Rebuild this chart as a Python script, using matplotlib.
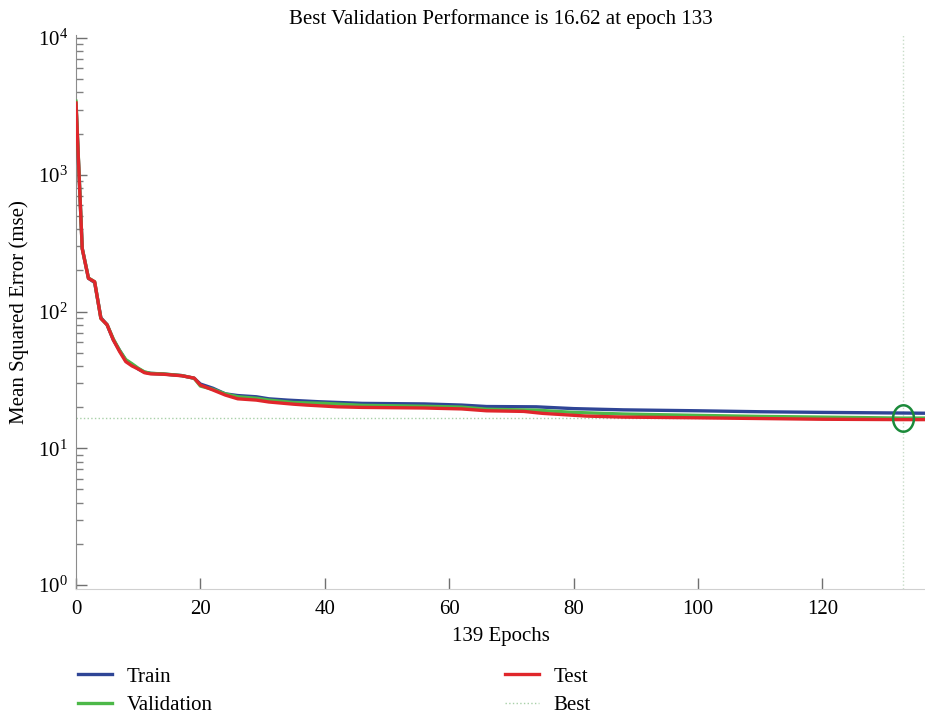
import numpy as np
import matplotlib
matplotlib.use("Agg")
import matplotlib.pyplot as plt
from matplotlib.path import Path

plt.rcParams['font.family'] = ['Liberation Serif', 'DejaVu Serif']
plt.rcParams['mathtext.fontset'] = 'custom'
plt.rcParams['mathtext.rm'] = 'Liberation Serif'

# values (epoch, mse)
train_ep = [0, 1, 2, 3, 4, 5, 6, 7, 8, 9, 10, 11, 12, 14, 17, 19, 20, 22, 24, 26, 29, 31, 34,
            39, 46, 56, 62, 66, 74, 80, 88, 100, 110, 120, 133, 139]
train_mse = [3300, 290, 175, 163, 90, 80, 62, 52, 44, 41, 38, 36, 35.3, 34.9, 34, 32.5, 29.5,
             27.5, 25, 24.3, 23.8, 23, 22.5, 21.9, 21.3, 21.1, 20.7, 20.2, 20.1, 19.5, 19.1,
             18.8, 18.5, 18.3, 18.1, 18.0]

val_ep = [0, 1, 2, 3, 4, 5, 6, 7, 8, 9, 10, 11, 12, 14, 17, 19, 20, 22, 24, 26, 29, 31, 35,
          40, 46, 56, 62, 66, 74, 80, 88, 100, 110, 120, 133, 139]
val_mse = [3450, 290, 176, 165, 89, 80, 63, 52, 44.5, 41.5, 38.5, 36.2, 35.3, 35, 34, 32.5,
           28.5, 27, 25, 23.8, 23.2, 22.5, 21.6, 21.3, 20.6, 20.3, 20.0, 19.3, 19.0, 18.3,
           17.8, 17.4, 17.1, 16.9, 16.62, 16.65]

test_ep = [0, 1, 2, 3, 4, 5, 6, 7, 8, 9, 10, 11, 12, 14, 17, 19, 20, 22, 24, 26, 29, 31, 35,
           37, 42, 46, 56, 62, 66, 72, 75, 82, 88, 100, 110, 120, 133, 139]
test_mse = [3350, 288, 175, 165, 89, 80, 62, 51, 43, 40, 38, 35.7, 35, 34.8, 33.9, 32.6, 29,
            26.7, 24.5, 23, 22.5, 21.8, 21, 20.7, 20.1, 19.9, 19.7, 19.4, 18.8, 18.6, 18.0,
            17.2, 16.9, 16.7, 16.5, 16.3, 16.2, 16.2]

best_epoch = 133
best_perf = 16.62
n_epochs = 139

fig = plt.figure(figsize=(9.25, 7.18), dpi=100)
ax = fig.add_axes([76 / 925, 1 - 589 / 718, 1 - 76 / 925, (589 - 35) / 718])

ax.plot(train_ep, train_mse, color='#2f4596', lw=2.4, label='Train', zorder=3)
ax.plot(val_ep, val_mse, color='#4cb848', lw=2.4, label='Validation', zorder=4)
ax.plot(test_ep, test_mse, color='#e0262b', lw=2.4, label='Test', zorder=5)
ax.axvline(best_epoch, color='#c8dcc8', lw=1, ls=':', zorder=1)
ax.axhline(best_perf, xmax=best_epoch / 136.5, color='#a8d0a8', lw=1, ls=':', zorder=1,
           label='Best')

t = np.linspace(0, 2 * np.pi, 60)
ell = Path(np.column_stack([0.79 * np.cos(t), np.sin(t)]))
ax.plot([best_epoch], [best_perf], marker=ell, ms=19, mfc='none', mec='#1b8a3a', mew=1.8,
        ls='none', zorder=6)

ax.set_yscale('log')
ax.set_xlim(0, 136.5)
ax.set_ylim(10 ** -0.029, 10 ** 4.022)
ax.set_xticks([0, 20, 40, 60, 80, 100, 120])
ax.set_yticks([1, 10, 100, 1000, 10000])

for s in ['top', 'right']:
    ax.spines[s].set_visible(False)
ax.spines['left'].set_color('#8c8c8c')
ax.spines['bottom'].set_color('#d0d0d0')
ax.tick_params(which='major', direction='in', length=8, width=1, color='#707070',
               labelsize=15, pad=6)
ax.tick_params(axis='x', which='major', pad=8)
ax.tick_params(which='minor', direction='in', length=5, width=1, color='#808080')
ax.tick_params(axis='x', which='minor', length=0)

ax.set_title('Best Validation Performance is %.2f at epoch %d' % (best_perf, best_epoch),
             fontsize=15, pad=8)
ax.set_xlabel('%d Epochs' % n_epochs, fontsize=15, labelpad=6)
ax.set_ylabel('Mean Squared Error (mse)', fontsize=15, labelpad=6)

h, l = ax.get_legend_handles_labels()
fig.legend(h, l, ncol=2, frameon=False, fontsize=15, loc='upper left',
           bbox_to_anchor=(78 / 925, 1 - 667 / 718), borderpad=0, borderaxespad=0,
           handlelength=1.65, handletextpad=0.7, columnspacing=14.0, labelspacing=0.42)

fig.savefig('out.png', dpi=100)
